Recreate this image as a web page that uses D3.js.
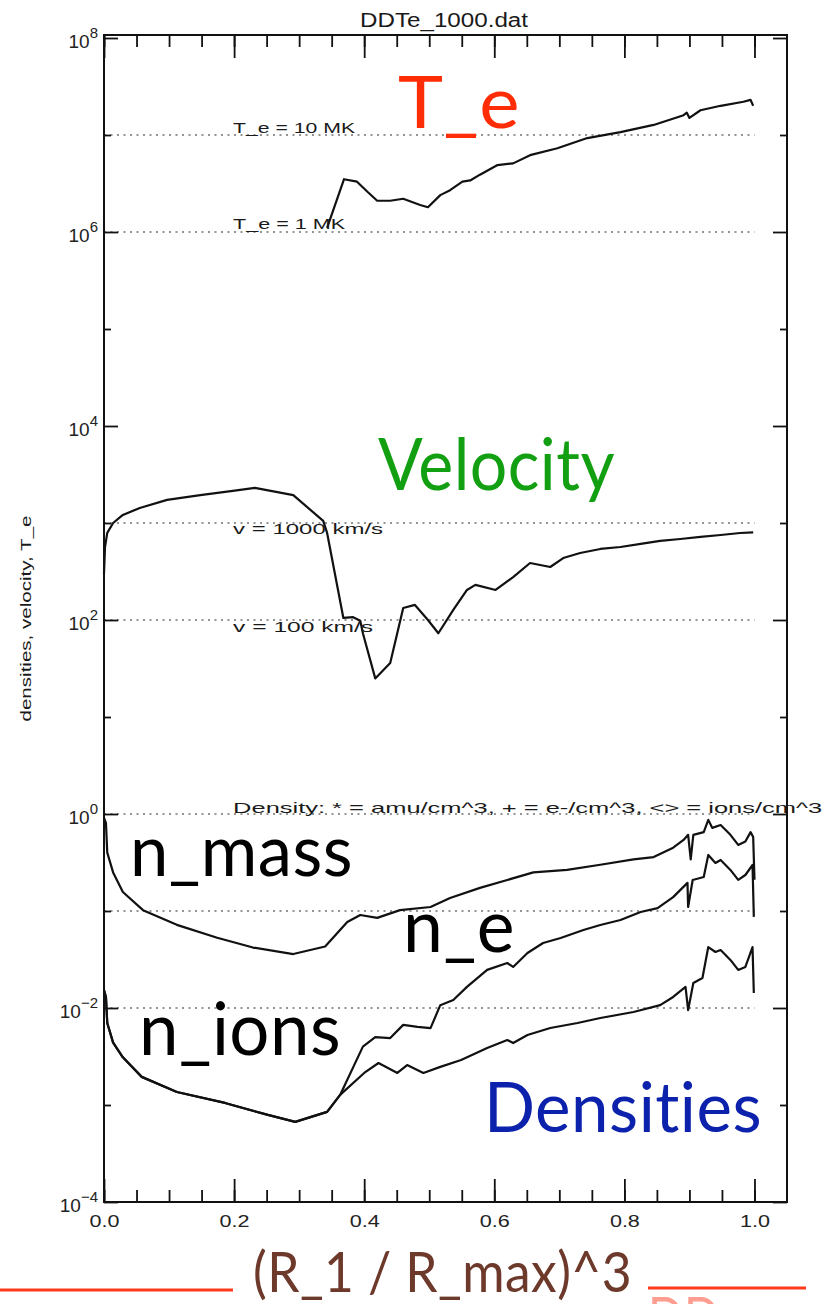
<!DOCTYPE html>
<html>
<head>
<meta charset="utf-8">
<script src="https://cdn.jsdelivr.net/npm/d3@7"></script>
<style>
body { margin: 0; background: #fff; }
svg { display: block; }
text { font-variant-ligatures: none; font-feature-settings: "liga" 0; }
</style>
</head>
<body>
<svg id="chart" width="836" height="1304"></svg>
<script>
// x = (R_1/R_max)^3
var xMajor = [0, 0.2, 0.4, 0.6, 0.8, 1.0];
var xTickLabels = ['0.0', '0.2', '0.4', '0.6', '0.8', '1.0'];
var yMajor = [1e8, 1e6, 1e4, 1e2, 1, 1e-2, 1e-4];
var yMinor = [1e7, 1e5, 1e3, 1e1, 1e-1, 1e-3];
var refLevels = [1e7, 1e6, 1e3, 1e2, 1, 1e-1, 1e-2];

var refNotes = ['T_e = 10 MK', 'T_e = 1 MK', 'v = 1000 km/s', 'v = 100 km/s',
    'Density:  * = amu/cm^3,   + = e-/cm^3,   <> = ions/cm^3'];
var refNoteLevels = [1e7, 1e6, 1e3, 1e2, 1];

var tempData = [[0.343, 1.1e6], [0.369, 3.5e6], [0.389, 3.3e6], [0.405, 2.6e6], [0.420, 2.1e6],
    [0.440, 2.1e6], [0.460, 2.2e6], [0.486, 1.9e6], [0.498, 1.8e6], [0.517, 2.4e6], [0.532, 2.7e6],
    [0.551, 3.3e6], [0.563, 3.4e6], [0.578, 3.9e6], [0.605, 4.9e6], [0.629, 5.1e6], [0.655, 6.2e6],
    [0.697, 7.3e6], [0.743, 9.3e6], [0.794, 1.07e7], [0.845, 1.27e7], [0.891, 1.6e7], [0.896, 1.7e7],
    [0.900, 1.5e7], [0.917, 1.8e7], [0.948, 2.0e7], [0.983, 2.2e7], [0.994, 2.3e7], [0.998, 2.0e7]];

var velData = [[0.000, 300], [0.0015, 560], [0.005, 790], [0.014, 1000], [0.029, 1210], [0.055, 1430],
    [0.097, 1730], [0.148, 1940], [0.198, 2140], [0.232, 2300], [0.291, 1940], [0.337, 1050],
    [0.343, 790], [0.368, 105], [0.383, 107], [0.394, 98], [0.398, 73], [0.417, 25], [0.440, 36],
    [0.460, 133], [0.478, 143], [0.498, 100], [0.514, 73], [0.537, 127], [0.558, 204], [0.571, 230],
    [0.602, 204], [0.629, 277], [0.655, 387], [0.686, 352], [0.706, 435], [0.732, 491], [0.763, 540],
    [0.794, 566], [0.825, 608], [0.855, 653], [0.886, 684], [0.917, 718], [0.948, 752], [0.978, 789],
    [0.998, 800]];

var massData = [[0.000, 0.91], [0.003, 0.81], [0.005, 0.40], [0.014, 0.25], [0.029, 0.157],
    [0.060, 0.102], [0.112, 0.072], [0.174, 0.053], [0.229, 0.042], [0.291, 0.036], [0.340, 0.043],
    [0.374, 0.077], [0.394, 0.091], [0.420, 0.085], [0.455, 0.102], [0.502, 0.110], [0.532, 0.136],
    [0.578, 0.173], [0.620, 0.209], [0.660, 0.25], [0.712, 0.265], [0.763, 0.30], [0.814, 0.34],
    [0.845, 0.36], [0.875, 0.45], [0.891, 0.54], [0.898, 0.61], [0.902, 0.34], [0.906, 0.61],
    [0.922, 0.65], [0.929, 0.87], [0.935, 0.72], [0.948, 0.77], [0.963, 0.61], [0.975, 0.48],
    [0.986, 0.52], [0.994, 0.65], [0.998, 0.58], [1.000, 0.21]];

var elecData = [[0.000, 0.0153], [0.003, 0.013], [0.005, 0.0070], [0.014, 0.0044], [0.029, 0.0031],
    [0.058, 0.00195], [0.112, 0.00136], [0.186, 0.00105], [0.252, 0.00079], [0.294, 0.00067],
    [0.343, 0.00085], [0.363, 0.00127], [0.398, 0.0040], [0.417, 0.0050], [0.440, 0.0049],
    [0.460, 0.0067], [0.482, 0.0064], [0.502, 0.0062], [0.517, 0.0107], [0.537, 0.0121],
    [0.558, 0.0165], [0.589, 0.0247], [0.620, 0.0291], [0.629, 0.0265], [0.651, 0.0369],
    [0.675, 0.0468], [0.702, 0.0527], [0.737, 0.0637], [0.763, 0.0718], [0.794, 0.0808],
    [0.825, 0.0977], [0.851, 0.107], [0.875, 0.139], [0.897, 0.195], [0.898, 0.110], [0.905, 0.209],
    [0.922, 0.224], [0.929, 0.378], [0.940, 0.313], [0.948, 0.336], [0.963, 0.265], [0.975, 0.209],
    [0.986, 0.235], [0.997, 0.298], [0.999, 0.087]];

var ionData = [[0.000, 0.0153], [0.003, 0.013], [0.005, 0.0070], [0.014, 0.0044], [0.029, 0.0031],
    [0.058, 0.00195], [0.112, 0.00136], [0.186, 0.00105], [0.252, 0.00079], [0.294, 0.00067],
    [0.343, 0.00085], [0.363, 0.00127], [0.400, 0.00214], [0.422, 0.00271], [0.451, 0.00214],
    [0.466, 0.00258], [0.491, 0.00214], [0.517, 0.00247], [0.549, 0.00291], [0.589, 0.00387],
    [0.620, 0.00468], [0.629, 0.00435], [0.651, 0.00527], [0.686, 0.00622], [0.728, 0.0070],
    [0.763, 0.00789], [0.814, 0.0091], [0.855, 0.0107], [0.875, 0.0130], [0.894, 0.0165],
    [0.898, 0.0095], [0.906, 0.0181], [0.920, 0.0204], [0.929, 0.0425], [0.940, 0.0378],
    [0.948, 0.0396], [0.963, 0.0313], [0.975, 0.0247], [0.986, 0.0265], [0.997, 0.0425],
    [0.999, 0.0143]];

var seriesList = [tempData, velData, massData, elecData, ionData];

class DotPlot {
    constructor(elemT){
        this.elem = elemT;

        this.left = 104;
        this.right = 787;
        this.top = 35;
        this.bottom = 1202;

        this.idlFont = '"Liberation Sans", Arial, Helvetica, sans-serif';
        this.bigFont = 'Lato, "Open Sans", sans-serif';

        this.x = d3.scaleLinear()
        .domain([0, 1.05])
        .range([this.left, this.right]);

        this.y = d3.scaleLog()
        .domain([1e-4, 1e8])
        .range([this.bottom, 38]);

        this.line = d3.line()
        .x(d => this.x(d[0]))
        .y(d => this.y(d[1]));
    }

    draw() {
        this.drawRefLines();
        this.drawCurves();
        this.drawAxes();
        this.drawTexts();
        this.drawOverlay();
    }

    drawRefLines() {
        var g = this.elem.append('g').attr('class', 'ref_lines');

        g.selectAll('line')
        .data(refLevels)
        .enter()
        .append('line')
        .attr('x1', this.x(0))
        .attr('x2', this.x(1))
        .attr('y1', d => this.y(d))
        .attr('y2', d => this.y(d))
        .attr('stroke', '#707070')
        .attr('stroke-width', 1.6)
        .attr('stroke-dasharray', '2,4.5');
    }

    drawCurves() {
        this.elem.append('g').attr('class', 'curves')
        .selectAll('path')
        .data(seriesList)
        .enter()
        .append('path')
        .attr('d', this.line)
        .attr('fill', 'none')
        .attr('stroke', '#111')
        .attr('stroke-width', 2.2)
        .attr('stroke-linejoin', 'round');
    }

    drawAxes() {
        var g = this.elem.append('g').attr('class', 'axes');
        var minorX = d3.range(0, 21).map(i => i * 0.05);

        var addAxis = (axis, tx, ty) => {
            return g.append('g')
            .attr('transform', 'translate(' + tx + ',' + ty + ')')
            .attr('font-family', this.idlFont)
            .call(axis);
        };

        // ticks point inward on all four sides, like IDL
        addAxis(d3.axisBottom(this.x).tickValues(minorX).tickSize(-12).tickFormat(''), 0, this.bottom);
        var bottomG = addAxis(d3.axisBottom(this.x).tickValues(xMajor).tickSize(-23).tickPadding(14)
            .tickFormat((d,i) => xTickLabels[i]), 0, this.bottom);
        addAxis(d3.axisTop(this.x).tickValues(minorX).tickSize(-12).tickFormat(''), 0, this.top);
        addAxis(d3.axisTop(this.x).tickValues(xMajor).tickSize(-23).tickFormat(''), 0, this.top);

        addAxis(d3.axisLeft(this.y).tickValues(yMinor).tickSize(-7).tickFormat(''), this.left, 0);
        var leftG = addAxis(d3.axisLeft(this.y).tickValues(yMajor).tickSize(-14).tickPadding(6), this.left, 0);
        addAxis(d3.axisRight(this.y).tickValues(yMinor).tickSize(-7).tickFormat(''), this.right, 0);
        addAxis(d3.axisRight(this.y).tickValues(yMajor).tickSize(-14).tickFormat(''), this.right, 0);

        g.selectAll('.domain').remove();
        g.selectAll('.tick line')
        .attr('stroke', '#111')
        .attr('stroke-width', 1.8);

        bottomG.selectAll('.tick text')
        .attr('font-size', 16)
        .attr('fill', '#222')
        .attr('textLength', 30)
        .attr('lengthAdjust', 'spacingAndGlyphs');

        leftG.selectAll('.tick text')
        .attr('font-size', 19)
        .attr('fill', '#222')
        .attr('dy', 9)
        .each(function(d) {
            var e = Math.round(Math.log10(d));
            var t = d3.select(this);
            t.text(null);
            t.append('tspan').text('10');
            t.append('tspan')
            .attr('dy', -10)
            .attr('font-size', 15)
            .text(e < 0 ? '\u2212' + (-e) : e);
        });

        g.append('rect')
        .attr('x', this.left)
        .attr('y', this.top)
        .attr('width', this.right - this.left)
        .attr('height', this.bottom - this.top)
        .attr('fill', 'none')
        .attr('stroke', '#111')
        .attr('stroke-width', 2);
    }

    drawTexts() {
        var g = this.elem.append('g').attr('class', 'idl_texts')
        .attr('font-family', this.idlFont)
        .attr('fill', '#1a1a1a');

        g.append('text')
        .attr('x', 444)
        .attr('y', 27)
        .attr('text-anchor', 'middle')
        .attr('font-size', 20)
        .attr('textLength', 168)
        .attr('lengthAdjust', 'spacingAndGlyphs')
        .text('DDTe_1000.dat');

        g.append('text')
        .attr('transform', 'translate(31,' + ((this.top + this.bottom) / 2) + ') rotate(-90)')
        .attr('text-anchor', 'middle')
        .attr('font-size', 15)
        .attr('textLength', 206)
        .attr('lengthAdjust', 'spacingAndGlyphs')
        .text('densities, velocity, T_e');

        var shifts = [-2, -3, 11, 12, -1];
        var lengths = [122, 112, 150, 140, 589];
        g.selectAll('.ref_note')
        .data(refNotes)
        .enter()
        .append('text')
        .attr('class', 'ref_note')
        .attr('x', this.x(0.2) - 1)
        .attr('y', (d,i) => this.y(refNoteLevels[i]) + shifts[i])
        .attr('font-size', 15)
        .attr('textLength', (d,i) => lengths[i])
        .attr('lengthAdjust', 'spacingAndGlyphs')
        .text(d => d);
    }

    drawOverlay() {
        var labels = [
            {text: 'T_e', x: 398, y: 128, w: 122, size: 72, color: '#ff2d05'},
            {text: 'Velocity', x: 378, y: 490, w: 237, size: 72, color: '#12a012'},
            {text: 'Densities', x: 484, y: 1132, w: 278, size: 70, color: '#0d22ac'},
            {text: 'n_mass', x: 130, y: 876, w: 223, size: 72, color: '#000'},
            {text: 'n_e', x: 403, y: 952, w: 112, size: 74, color: '#000'},
            {text: 'n_ions', x: 139, y: 1055, w: 202, size: 74, color: '#000'},
            {text: '(R_1 / R_max)^3', x: 253, y: 1292, w: 379, size: 56, color: '#6c392b'},
            {text: 'DD', x: 648, y: 1337, w: 72, size: 56, color: '#ff9d90'}
        ];

        var g = this.elem.append('g').attr('class', 'overlay');

        g.selectAll('line')
        .data([[0, 233, 1290], [648, 806, 1288]])
        .enter()
        .append('line')
        .attr('x1', d => d[0])
        .attr('x2', d => d[1])
        .attr('y1', d => d[2])
        .attr('y2', d => d[2])
        .attr('stroke', '#ff3a1c')
        .attr('stroke-width', 3);

        g.selectAll('text')
        .data(labels)
        .enter()
        .append('text')
        .attr('x', d => d.x)
        .attr('y', d => d.y)
        .attr('font-family', this.bigFont)
        .attr('font-size', d => d.size)
        .attr('fill', d => d.color)
        .attr('letter-spacing', 0.5)
        .style('font-variant-ligatures', 'none')
        .attr('textLength', d => d.w)
        .attr('lengthAdjust', 'spacingAndGlyphs')
        .text(d => d.text);
    }
}

var plot = new DotPlot(d3.select('#chart'));
plot.draw();
</script>
</body>
</html>
